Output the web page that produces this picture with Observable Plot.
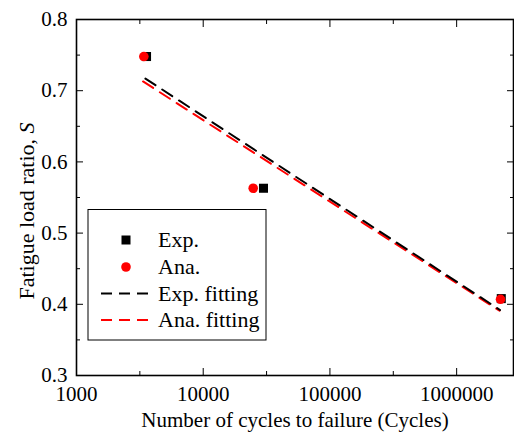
<!DOCTYPE html>
<html><head><meta charset="utf-8">
<script src="https://cdn.jsdelivr.net/npm/d3@7"></script>
<script src="https://cdn.jsdelivr.net/npm/@observablehq/plot@0.6"></script>
<style>
body{margin:0;background:#fff;}
#wrap{position:relative;width:514px;height:432px;overflow:hidden;background:#fff;}
#wrap svg{position:absolute;left:0;top:0;}
</style>
</head><body><div id="wrap"></div>
<script>
// ---- data ----
const expCycles = [3570, 29900, 2250000];
const expRatio = [0.748, 0.563, 0.408];
const anaCycles = [3400, 24800, 2220000];
const anaRatio = [0.748, 0.563, 0.407];
const expFitCycles = [3500, 2200000];
const expFitRatio = [0.717, 0.392];
const anaFitCycles = [3350, 2180000];
const anaFitRatio = [0.713, 0.391];
const xTicks = [1000, 10000, 100000, 1000000];
const xMinorTicks = [3162, 31623, 316228];
const yTicks = [0.3, 0.4, 0.5, 0.6, 0.7, 0.8];
const yMinorTicks = [0.35, 0.45, 0.55, 0.65, 0.75];
const legendLabels = ["Exp.", "Ana.", "Exp. fitting", "Ana. fitting"];
const xTitle = "Number of cycles to failure (Cycles)";
const yTitle = "Fatigue load ratio, ";
const yTitleItalic = "S";

const expPts = expCycles.map((c, i) => ({c, s: expRatio[i]}));
const anaPts = anaCycles.map((c, i) => ({c, s: anaRatio[i]}));
const expFit = expFitCycles.map((c, i) => ({c, s: expFitRatio[i]}));
const anaFit = anaFitCycles.map((c, i) => ({c, s: anaFitRatio[i]}));

const FONT = "'Liberation Serif','Times New Roman',serif";
const blank = () => "";

const chart = Plot.plot({
  width: 514, height: 432,
  marginLeft: 76, marginRight: 1, marginTop: 19, marginBottom: 57,
  style: {fontFamily: FONT, fontSize: "21px", color: "black", background: "white"},
  x: {type: "log", domain: [1000, 2810000]},
  y: {domain: [0.3, 0.8]},
  marks: [
    Plot.axisX(xTicks, {anchor: "bottom", tickSize: -7, tickPadding: 18, tickFormat: d3.format("d"),
      label: xTitle, labelAnchor: "center", labelArrow: "none", labelOffset: 51}),
    Plot.axisX(xMinorTicks, {anchor: "bottom", tickSize: -4, tickFormat: blank, label: null}),
    Plot.axisX(xTicks, {anchor: "top", tickSize: -7, tickFormat: blank, label: null}),
    Plot.axisX(xMinorTicks, {anchor: "top", tickSize: -4, tickFormat: blank, label: null}),
    Plot.axisY(yTicks, {anchor: "left", tickSize: -7, tickPadding: 16, tickFormat: d3.format(".1f"), label: null}),
    Plot.axisY(yMinorTicks, {anchor: "left", tickSize: -4, tickFormat: blank, label: null}),
    Plot.axisY(yTicks, {anchor: "right", tickSize: -7, tickFormat: blank, label: null}),
    Plot.axisY(yMinorTicks, {anchor: "right", tickSize: -4, tickFormat: blank, label: null}),
    Plot.line(anaFit, {x: "c", y: "s", stroke: "#ff0000", strokeWidth: 2, strokeDasharray: "12,8"}),
    Plot.line(expFit, {x: "c", y: "s", stroke: "black", strokeWidth: 2, strokeDasharray: "12,8"}),
    Plot.dot(expPts, {x: "c", y: "s", symbol: "square", r: 5.1, fill: "black", stroke: "none"}),
    Plot.dot(anaPts, {x: "c", y: "s", symbol: "circle", r: 4.8, fill: "#ff0000", stroke: "none"}),
    Plot.frame({stroke: "black", strokeWidth: 1.6})
  ]
});
const wrap = document.getElementById("wrap");
wrap.appendChild(chart);

// overlay: y title (with italic S) and legend box
const ov = d3.select(wrap).append("svg").attr("width", 514).attr("height", 432)
  .style("font-family", FONT).style("font-size", "22px").style("pointer-events", "none");
const yt = ov.append("text").attr("transform", "translate(34,211) rotate(-90)")
  .attr("text-anchor", "middle").attr("fill", "black");
yt.append("tspan").text(yTitle);
yt.append("tspan").attr("font-style", "italic").text(yTitleItalic);

const lg = ov.append("g");
lg.append("rect").attr("x", 88).attr("y", 209.5).attr("width", 178).attr("height", 130.5)
  .attr("fill", "white").attr("stroke", "black").attr("stroke-width", 1);
const rowY = [240, 267, 293.5, 320];
lg.append("rect").attr("x", 126 - 4.5).attr("y", rowY[0] - 4.5).attr("width", 9).attr("height", 9).attr("fill", "black");
lg.append("circle").attr("cx", 126).attr("cy", rowY[1]).attr("r", 4.8).attr("fill", "#ff0000");
lg.append("line").attr("x1", 101).attr("x2", 148).attr("y1", rowY[2]).attr("y2", rowY[2])
  .attr("stroke", "black").attr("stroke-width", 2).attr("stroke-dasharray", "11,7");
lg.append("line").attr("x1", 101).attr("x2", 148).attr("y1", rowY[3]).attr("y2", rowY[3])
  .attr("stroke", "#ff0000").attr("stroke-width", 2).attr("stroke-dasharray", "11,7");
legendLabels.forEach((t, i) => {
  lg.append("text").attr("x", 158).attr("y", rowY[i]).attr("dy", "0.33em").attr("fill", "black").text(t);
});
</script>
</body></html>
